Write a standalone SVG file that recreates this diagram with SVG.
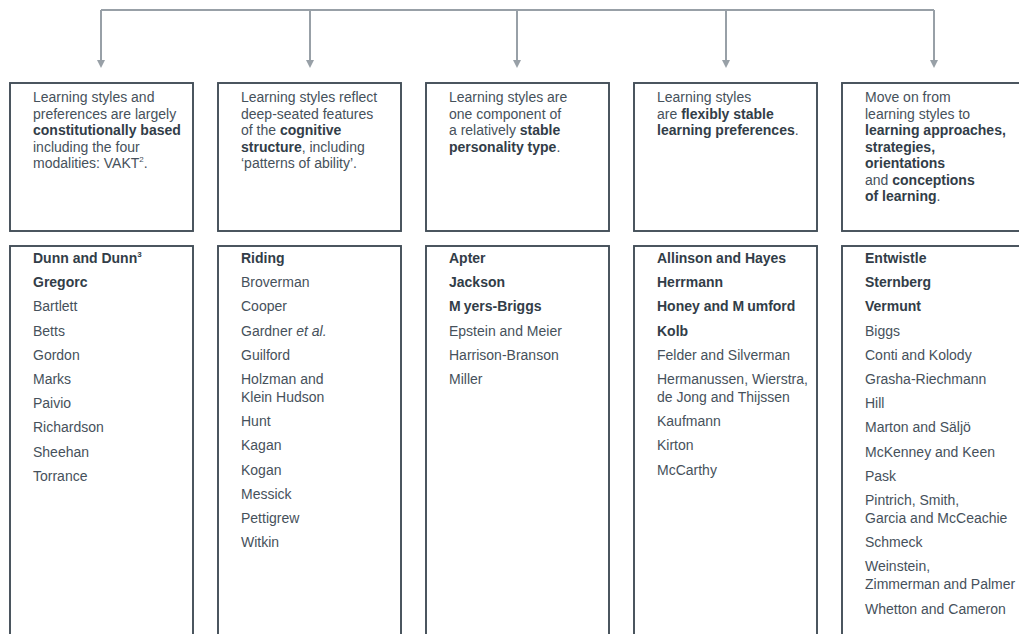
<svg xmlns="http://www.w3.org/2000/svg" width="1019" height="634" viewBox="0 0 1019 634">
  <style>
    .box { fill: #ffffff; stroke: #434e58; stroke-width: 1.9; }
    .conn { fill: none; stroke: #98a0a7; stroke-width: 2; }
    .head { fill: #98a0a7; }
    text { font-family: "Liberation Sans", Arial, sans-serif; font-size: 14px; fill: #46515b; }
    .b { font-weight: bold; fill: #323d48; }
    .sup { font-size: 8px; }
  </style>
  <rect width="1019" height="634" fill="#ffffff"/>

  <!-- connectors: bus line with five drops -->
  <g id="connectors">
    <path class="conn" d="M101,10 H934"/>
    <path class="conn" d="M101,10 V61"/>
    <path class="conn" d="M310,10 V61"/>
    <path class="conn" d="M517,10 V61"/>
    <path class="conn" d="M726,10 V61"/>
    <path class="conn" d="M934,10 V61"/>
    <path class="head" d="M97,60 L105,60 L101,68 Z"/>
    <path class="head" d="M306,60 L314,60 L310,68 Z"/>
    <path class="head" d="M513,60 L521,60 L517,68 Z"/>
    <path class="head" d="M722,60 L730,60 L726,68 Z"/>
    <path class="head" d="M930,60 L938,60 L934,68 Z"/>
  </g>

  <!-- column 1 -->
  <g id="desc-constitutional">
    <rect class="box" x="10" y="83" width="183" height="148"/>
    <text x="33" y="102">Learning styles and</text>
    <text x="33" y="118.5">preferences are largely</text>
    <text x="33" y="135" class="b">constitutionally based</text>
    <text x="33" y="151.5">including the four</text>
    <text x="33" y="168">modalities: VAKT<tspan class="sup" dy="-6">2</tspan><tspan dy="6">.</tspan></text>
  </g>
  <g id="list-constitutional">
    <rect class="box" x="10" y="246" width="183" height="400"/>
    <text x="33" y="263" class="b">Dunn and Dunn<tspan class="sup" dy="-6">3</tspan></text>
    <text x="33" y="287.2" class="b">Gregorc</text>
    <text x="33" y="311.4">Bartlett</text>
    <text x="33" y="335.6">Betts</text>
    <text x="33" y="359.8">Gordon</text>
    <text x="33" y="384">Marks</text>
    <text x="33" y="408.2">Paivio</text>
    <text x="33" y="432.4">Richardson</text>
    <text x="33" y="456.6">Sheehan</text>
    <text x="33" y="480.8">Torrance</text>
  </g>

  <!-- column 2 -->
  <g id="desc-cognitive">
    <rect class="box" x="218" y="83" width="183" height="148"/>
    <text x="241" y="102">Learning styles reflect</text>
    <text x="241" y="118.5">deep-seated features</text>
    <text x="241" y="135">of the <tspan class="b">cognitive</tspan></text>
    <text x="241" y="151.5"><tspan class="b">structure</tspan>, including</text>
    <text x="241" y="168">‘patterns of ability’.</text>
  </g>
  <g id="list-cognitive">
    <rect class="box" x="218" y="246" width="183" height="400"/>
    <text x="241" y="263" class="b">Riding</text>
    <text x="241" y="287.2">Broverman</text>
    <text x="241" y="311.4">Cooper</text>
    <text x="241" y="335.6">Gardner <tspan font-style="italic">et al.</tspan></text>
    <text x="241" y="359.8">Guilford</text>
    <text x="241" y="384">Holzman and</text>
    <text x="241" y="402">Klein Hudson</text>
    <text x="241" y="426.2">Hunt</text>
    <text x="241" y="450.4">Kagan</text>
    <text x="241" y="474.6">Kogan</text>
    <text x="241" y="498.8">Messick</text>
    <text x="241" y="523">Pettigrew</text>
    <text x="241" y="547.2">Witkin</text>
  </g>

  <!-- column 3 -->
  <g id="desc-personality">
    <rect class="box" x="426" y="83" width="183" height="148"/>
    <text x="449" y="102">Learning styles are</text>
    <text x="449" y="118.5">one component of</text>
    <text x="449" y="135">a relatively <tspan class="b">stable</tspan></text>
    <text x="449" y="151.5"><tspan class="b">personality type</tspan>.</text>
  </g>
  <g id="list-personality">
    <rect class="box" x="426" y="246" width="183" height="400"/>
    <text x="449" y="263" class="b">Apter</text>
    <text x="449" y="287.2" class="b">Jackson</text>
    <text x="449" y="311.4" class="b">M<tspan dx="3">yers-Briggs</tspan></text>
    <text x="449" y="335.6">Epstein and Meier</text>
    <text x="449" y="359.8">Harrison-Branson</text>
    <text x="449" y="384">Miller</text>
  </g>

  <!-- column 4 -->
  <g id="desc-preferences">
    <rect class="box" x="634" y="83" width="183" height="148"/>
    <text x="657" y="102">Learning styles</text>
    <text x="657" y="118.5">are <tspan class="b">flexibly stable</tspan></text>
    <text x="657" y="135"><tspan class="b">learning preferences</tspan>.</text>
  </g>
  <g id="list-preferences">
    <rect class="box" x="634" y="246" width="183" height="400"/>
    <text x="657" y="263" class="b">Allinson and Hayes</text>
    <text x="657" y="287.2" class="b">Herrmann</text>
    <text x="657" y="311.4" class="b">Honey and M<tspan dx="3">umford</tspan></text>
    <text x="657" y="335.6" class="b">Kolb</text>
    <text x="657" y="359.8">Felder and Silverman</text>
    <text x="657" y="384">Hermanussen, Wierstra,</text>
    <text x="657" y="402">de Jong and Thijssen</text>
    <text x="657" y="426.2">Kaufmann</text>
    <text x="657" y="450.4">Kirton</text>
    <text x="657" y="474.6">McCarthy</text>
  </g>

  <!-- column 5 -->
  <g id="desc-approaches">
    <rect class="box" x="842" y="83" width="190" height="148"/>
    <text x="865" y="102">Move on from</text>
    <text x="865" y="118.5">learning styles to</text>
    <text x="865" y="135" class="b">learning approaches,</text>
    <text x="865" y="151.5" class="b">strategies,</text>
    <text x="865" y="168" class="b">orientations</text>
    <text x="865" y="184.5">and <tspan class="b">conceptions</tspan></text>
    <text x="865" y="201"><tspan class="b">of learning</tspan>.</text>
  </g>
  <g id="list-approaches">
    <rect class="box" x="842" y="246" width="190" height="400"/>
    <text x="865" y="263" class="b">Entwistle</text>
    <text x="865" y="287.2" class="b">Sternberg</text>
    <text x="865" y="311.4" class="b">Vermunt</text>
    <text x="865" y="335.6">Biggs</text>
    <text x="865" y="359.8">Conti and Kolody</text>
    <text x="865" y="384">Grasha-Riechmann</text>
    <text x="865" y="408.2">Hill</text>
    <text x="865" y="432.4">Marton and Säljö</text>
    <text x="865" y="456.6">McKenney and Keen</text>
    <text x="865" y="480.8">Pask</text>
    <text x="865" y="505">Pintrich, Smith,</text>
    <text x="865" y="523">Garcia and McCeachie</text>
    <text x="865" y="547.2">Schmeck</text>
    <text x="865" y="571.4">Weinstein,</text>
    <text x="865" y="589.4">Zimmerman and Palmer</text>
    <text x="865" y="613.6">Whetton and Cameron</text>
  </g>
</svg>
